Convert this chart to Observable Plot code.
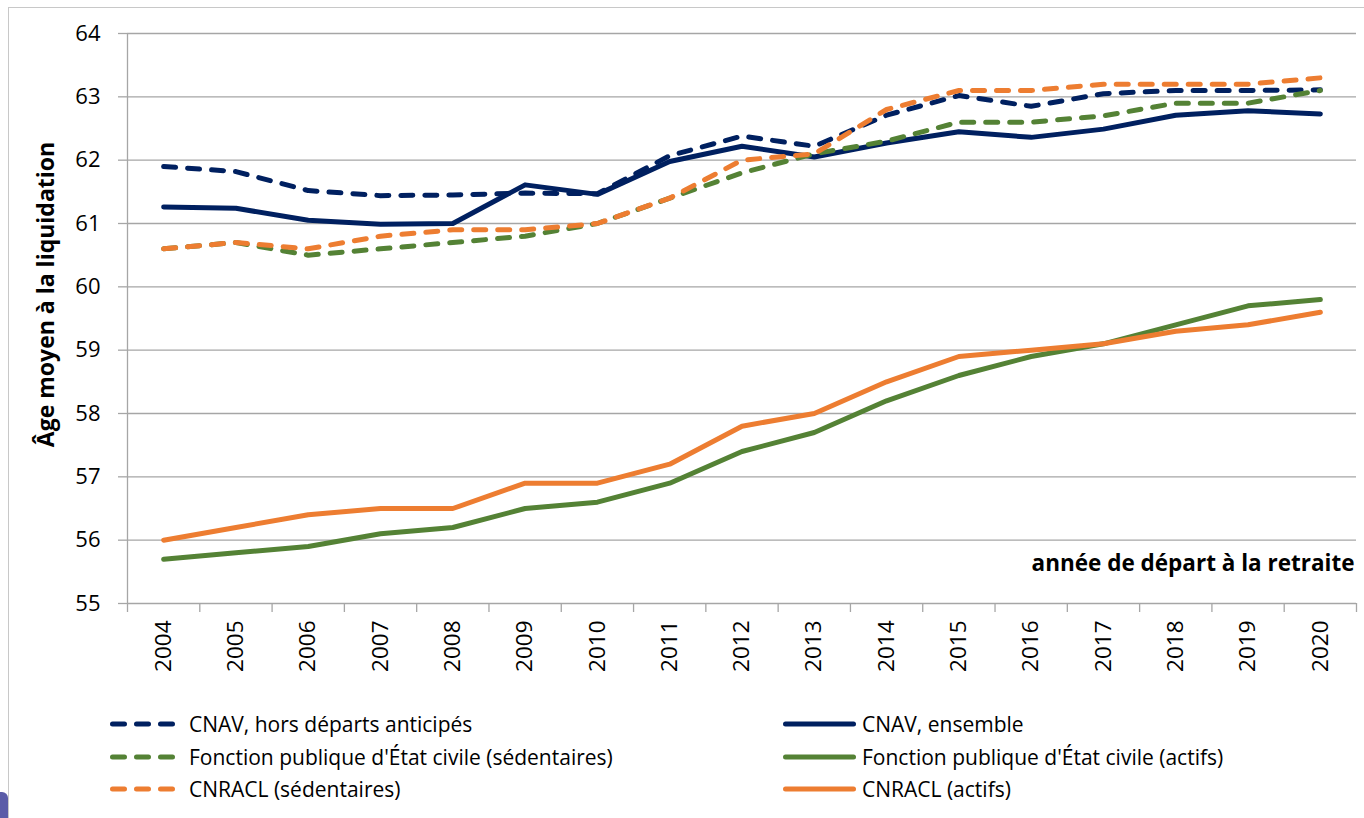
<!DOCTYPE html>
<html><head><meta charset="utf-8">
<script src="https://cdn.jsdelivr.net/npm/d3@7"></script>
<script src="https://cdn.jsdelivr.net/npm/@observablehq/plot@0.6"></script>
<style>
body{margin:0;background:#fff;}
#wrap{position:relative;width:1364px;height:818px;overflow:hidden;font-family:"Open Sans",Lato,sans-serif;}
#frame{position:absolute;left:8px;top:7px;width:1400px;height:900px;border-left:1px solid #c8c8c8;border-top:1px solid #c8c8c8;}
#plot{position:absolute;left:0;top:0;}
.leg{position:absolute;display:flex;align-items:center;height:30px;font-size:21px;color:#000;white-space:nowrap;}
.leg svg{display:block;}
#blob{position:absolute;left:-14px;top:792px;width:22px;height:40px;border-radius:6px;background:#5b5ca8;}
</style></head><body><div id="wrap"><div id="frame"></div><div id="blob"></div></div>
<script>
const years = [2004,2005,2006,2007,2008,2009,2010,2011,2012,2013,2014,2015,2016,2017,2018,2019,2020];
const cnavHorsDA   = [61.9,61.82,61.52,61.44,61.45,61.48,61.47,62.07,62.38,62.22,62.71,63.02,62.85,63.05,63.1,63.1,63.11];
const cnavEnsemble = [61.26,61.24,61.05,60.99,61.0,61.61,61.46,61.98,62.22,62.05,62.27,62.45,62.36,62.49,62.71,62.78,62.73];
const fpeSedent    = [60.6,60.7,60.5,60.6,60.7,60.8,61.0,61.4,61.8,62.1,62.3,62.6,62.6,62.7,62.9,62.9,63.1];
const fpeActifs    = [55.7,55.8,55.9,56.1,56.2,56.5,56.6,56.9,57.4,57.7,58.2,58.6,58.9,59.1,59.4,59.7,59.8];
const cnraclSedent = [60.6,60.7,60.6,60.8,60.9,60.9,61.0,61.4,62.0,62.1,62.8,63.1,63.1,63.2,63.2,63.2,63.3];
const cnraclActifs = [56.0,56.2,56.4,56.5,56.5,56.9,56.9,57.2,57.8,58.0,58.5,58.9,59.0,59.1,59.3,59.4,59.6];

const seriesNames  = ["CNAV, hors départs anticipés","CNAV, ensemble","Fonction publique d'État civile (sédentaires)","Fonction publique d'État civile (actifs)","CNRACL (sédentaires)","CNRACL (actifs)"];
const seriesValues = [cnavHorsDA,cnavEnsemble,fpeSedent,fpeActifs,cnraclSedent,cnraclActifs];
const seriesColors = ["#002060","#002060","#548235","#548235","#ED7D31","#ED7D31"];
const seriesDashed = [true,false,true,false,true,false];
const yTicks = [55,56,57,58,59,60,61,62,63,64];
const yTitle = "Âge moyen à la liquidation";
const xTitle = "année de départ à la retraite";

const FONT = "'Open Sans', Lato, sans-serif";
const boundaries = years.map(y => y - 0.5).concat([years[years.length-1] + 0.5]);
const DASH = "12,12";

const lineMarks = seriesNames.map((name, i) => {
  const data = years.map((yr, j) => ({year: yr, value: seriesValues[i][j], series: name}));
  return Plot.line(data, {x: "year", y: "value", stroke: seriesColors[i], strokeWidth: 5,
    strokeDasharray: seriesDashed[i] ? DASH : null, strokeLinecap: "round", strokeLinejoin: "round"});
});

const plot = Plot.plot({
  width: 1364, height: 690,
  marginTop: 33, marginLeft: 127, marginRight: 8, marginBottom: 87,
  style: {fontFamily: FONT, fontSize: "22px", color: "#000", background: "transparent"},
  x: {type: "linear", domain: [boundaries[0], boundaries[boundaries.length-1]]},
  y: {domain: [55, 64]},
  marks: [
    Plot.gridY(yTicks, {stroke: "#a6a6a6", strokeOpacity: 1, strokeWidth: 1.3}),
    Plot.ruleX([boundaries[0]], {stroke: "#a6a6a6", strokeWidth: 1.3}),
    Plot.axisY(yTicks, {tickSize: 9, tickPadding: 18, stroke: "#a6a6a6", strokeWidth: 1.3, label: null, fontSize: 22, tickFormat: d => String(d)}),
    Plot.axisX(boundaries, {tickSize: 9, tickFormat: () => "", stroke: "#a6a6a6", strokeWidth: 1.3, label: null}),
    Plot.axisX(years, {tickSize: 0, tickPadding: 17, tickRotate: -90, tickFormat: d => String(d), label: null, fontSize: 22.5}),
    ...lineMarks,
    Plot.text([yTitle], {frameAnchor: "left", textAnchor: "middle", rotate: -90, dx: -81, dy: -24, fontWeight: "bold", fontSize: 23, fill: "#000"}),
    Plot.text([xTitle], {frameAnchor: "bottom-right", textAnchor: "end", dx: -2, dy: -33, fontWeight: "bold", fontSize: 22.5, fill: "#000"})
  ]
});
plot.id = "plot";
const wrap = document.getElementById("wrap");
wrap.appendChild(plot);

// legend
const colX = [[110, 189], [783, 862]];
const rowY = [723.5, 756.5, 788.5];
seriesNames.forEach((name, i) => {
  const col = i % 2, row = Math.floor(i / 2);
  const sx = colX[col][0], tx = colX[col][1];
  const w = col === 0 ? 67 : 73;
  const div = document.createElement("div");
  div.className = "leg";
  div.style.left = sx + "px";
  div.style.top = (rowY[row] - 15) + "px";
  const ns = "http://www.w3.org/2000/svg";
  const svg = document.createElementNS(ns, "svg");
  svg.setAttribute("width", tx - sx);
  svg.setAttribute("height", 10);
  const ln = document.createElementNS(ns, "line");
  ln.setAttribute("x1", 2.5); ln.setAttribute("x2", w - 2.5);
  ln.setAttribute("y1", 5); ln.setAttribute("y2", 5);
  ln.setAttribute("stroke", seriesColors[i]);
  ln.setAttribute("stroke-width", 5);
  ln.setAttribute("stroke-linecap", "round");
  if (seriesDashed[i]) ln.setAttribute("stroke-dasharray", DASH);
  svg.appendChild(ln);
  div.appendChild(svg);
  const sp = document.createElement("span");
  sp.textContent = name;
  div.appendChild(sp);
  wrap.appendChild(div);
});
</script></body></html>
